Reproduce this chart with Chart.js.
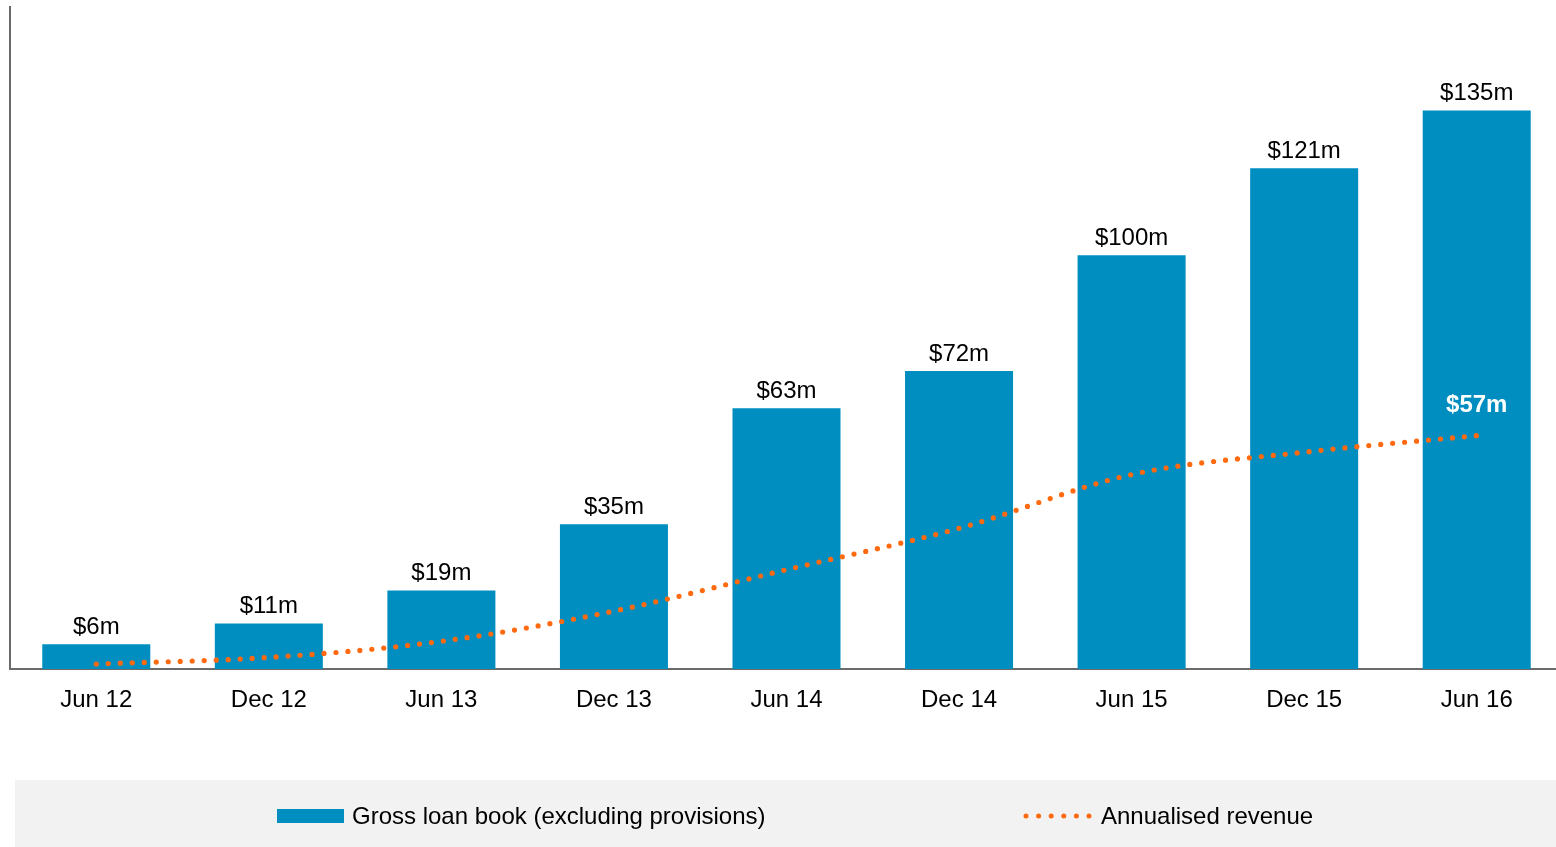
<!DOCTYPE html>
<html><head><meta charset="utf-8">
<script src="https://cdn.jsdelivr.net/npm/chart.js@4.4.1/dist/chart.umd.min.js"></script>
<style>html,body{margin:0;padding:0;overflow:hidden;background:#fff;width:1556px;height:847px}#wrap{position:absolute;left:0;top:0}</style>
</head><body><div id="wrap"><canvas id="c" width="1563" height="847"></canvas></div>
<script>
const categories = ['Jun 12','Dec 12','Jun 13','Dec 13','Jun 14','Dec 14','Jun 15','Dec 15','Jun 16'];
const loanBook = [6, 11, 19, 35, 63, 72, 100, 121, 135];
const revenue = [1.2, 2.8, 6.7, 14, 24, 34, 47, 52.4, 56.4];
const barLabels = ['$6m','$11m','$19m','$35m','$63m','$72m','$100m','$121m','$135m'];
const revenueEndLabel = '$57m';
const seriesNames = ['Gross loan book (excluding provisions)', 'Annualised revenue'];

const BLUE = '#008EC0';
const ORANGE = '#FF6A10';
const AXIS = '#6B6B6B';
const FONT = "'Liberation Sans', Arial, sans-serif";

const labelPlugin = {
  id: 'labels',
  afterDatasetsDraw(chart) {
    const ctx = chart.ctx;
    ctx.save();
    const bars = chart.getDatasetMeta(1).data;
    ctx.font = '24px ' + FONT;
    ctx.fillStyle = '#000';
    ctx.textAlign = 'center';
    ctx.textBaseline = 'alphabetic';
    bars.forEach((b, i) => ctx.fillText(barLabels[i], b.x, b.y - 10));
    const pts = chart.getDatasetMeta(0).data;
    const last = pts[pts.length - 1];
    ctx.font = 'bold 24px ' + FONT;
    ctx.fillStyle = '#fff';
    ctx.fillText(revenueEndLabel, last.x, last.y - 24);
    ctx.restore();
  },
  afterDraw(chart) {
    const ctx = chart.ctx;
    ctx.save();
    ctx.fillStyle = '#F2F2F2';
    ctx.fillRect(15, 780, 1556 - 15, 67);
    const cy = 816;
    ctx.fillStyle = BLUE;
    ctx.fillRect(277, 809, 67, 14);
    ctx.fillStyle = ORANGE;
    for (let k = 0; k < 6; k++) {
      ctx.beginPath();
      ctx.arc(1026 + k * 12.6, cy, 2.5, 0, Math.PI * 2);
      ctx.fill();
    }
    ctx.font = '24px ' + FONT;
    ctx.fillStyle = '#000';
    ctx.textAlign = 'left';
    ctx.textBaseline = 'middle';
    ctx.fillText(seriesNames[0], 352, cy + 1);
    ctx.fillText(seriesNames[1], 1101, cy + 1);
    ctx.restore();
  }
};

new Chart(document.getElementById('c'), {
  data: {
    labels: categories,
    datasets: [
      {
        type: 'line', label: seriesNames[1], data: revenue, order: 0,
        borderColor: ORANGE, borderWidth: 5.2, borderDash: [0, 12], borderCapStyle: 'round',
        pointRadius: 0, cubicInterpolationMode: 'monotone', fill: false
      },
      {
        type: 'bar', label: seriesNames[0], data: loanBook, order: 1,
        backgroundColor: BLUE, borderWidth: 0,
        barPercentage: 0.626, categoryPercentage: 1
      }
    ]
  },
  options: {
    responsive: false,
    animation: false,
    devicePixelRatio: 1,
    layout: { padding: { top: 7, left: 0, right: 0, bottom: 0 } },
    plugins: { legend: { display: false }, tooltip: { enabled: false } },
    scales: {
      x: {
        grid: { display: false, drawTicks: false },
        border: { display: true, color: AXIS, width: 2 },
        ticks: { color: '#000', font: { family: FONT, size: 24 }, padding: 17, maxRotation: 0 },
        afterFit(s) { s.height = 847 - 669; }
      },
      y: {
        min: 0, max: 160,
        grid: { display: false, drawTicks: false },
        border: { display: true, color: AXIS, width: 2 },
        ticks: { display: false },
        afterFit(s) { s.width = 10; }
      }
    }
  },
  plugins: [labelPlugin]
});
</script>
</body></html>
